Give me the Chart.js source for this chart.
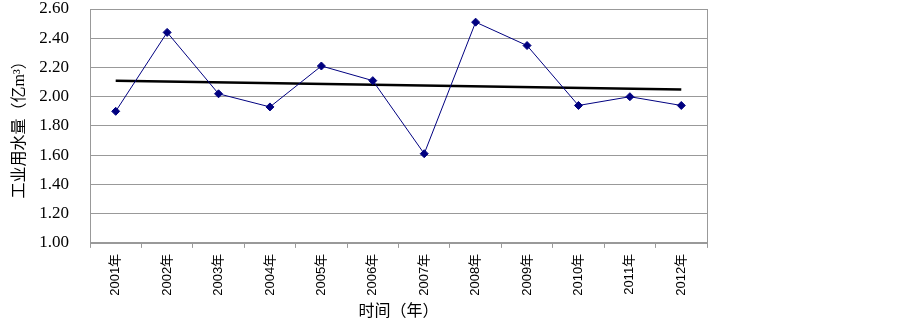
<!DOCTYPE html>
<html>
<head>
  <title>工业用水量</title>
  <script src="https://cdn.jsdelivr.net/npm/chart.js"></script>
  <style>
    html, body { margin: 0; padding: 0; background: #fff; }
    #wrap { width: 903px; height: 324px; }
  </style>
</head>
<body>
  <div id="wrap"><canvas id="chartCanvas" width="903" height="324"></canvas></div>

  <script>
    const years = ["2001年", "2002年", "2003年", "2004年", "2005年", "2006年",
                   "2007年", "2008年", "2009年", "2010年", "2011年", "2012年"];
    const waterUse = [1.90, 2.44, 2.02, 1.93, 2.21, 2.11, 1.61, 2.51, 2.35, 1.94, 2.00, 1.94];
    // trend line: only its two end points
    const trend = [2.11, null, null, null, null, null, null, null, null, null, null, 2.05];
    const yTitle = "工业用水量（亿m³）";
    const xTitle = "时间（年）";

    const serif = "'Liberation Serif', 'Noto Sans CJK SC', serif";

    // grey frame round the plot area
    const frame = {
      id: "frame",
      afterDraw(chart) {
        const a = chart.chartArea, c = chart.ctx;
        c.save();
        c.strokeStyle = "#999";
        c.lineWidth = 1;
        c.strokeRect(Math.round(a.left) + 0.5, Math.round(a.top) + 0.5,
                     Math.round(a.right - a.left), Math.round(a.bottom - a.top));
        c.restore();
      }
    };

    const ctx = document.getElementById("chartCanvas").getContext("2d");
    new Chart(ctx, {
      type: "line",
      data: {
        labels: years,
        datasets: [{
          label: "工业用水量",
          data: waterUse,
          borderColor: "#000080",
          backgroundColor: "#000080",
          borderWidth: 1,
          pointStyle: "rectRot",
          pointRadius: 4,
          pointHoverRadius: 4,
          tension: 0
        }, {
          label: "趋势",
          data: trend,
          borderColor: "#000",
          borderWidth: 2.5,
          pointRadius: 0,
          spanGaps: true
        }]
      },
      options: {
        responsive: false,
        animation: false,
        layout: { padding: { left: 10, right: 196, top: 0, bottom: 3 } },
        plugins: { legend: { display: false }, tooltip: { enabled: false } },
        scales: {
          x: {
            offset: true,
            grid: { offset: true, drawOnChartArea: false, color: "#999", tickLength: 5 },
            border: { color: "#999" },
            ticks: {
              minRotation: 90, maxRotation: 90, padding: 6,
              color: "#000",
              font: { family: "'Liberation Sans', 'Noto Sans CJK SC', sans-serif", size: 13 }
            },
            title: {
              display: true, text: xTitle, color: "#000",
              font: { family: serif, size: 16 }, padding: { top: 0, bottom: 0 }
            }
          },
          y: {
            min: 1, max: 2.6,
            grid: { color: "#999", drawTicks: false },
            border: { color: "#999" },
            ticks: {
              stepSize: 0.2, padding: 21, color: "#000",
              font: { family: serif, size: 17 },
              callback: v => v.toFixed(2)
            },
            title: {
              display: true, text: yTitle, color: "#000",
              font: { family: serif, size: 16 }, padding: { top: 0, bottom: 6 }
            },
            afterFit(scale) {
              scale.width = 80;
              scale.paddingTop = 9;
            }
          }
        }
      },
      plugins: [frame]
    });
  </script>
</body>
</html>
